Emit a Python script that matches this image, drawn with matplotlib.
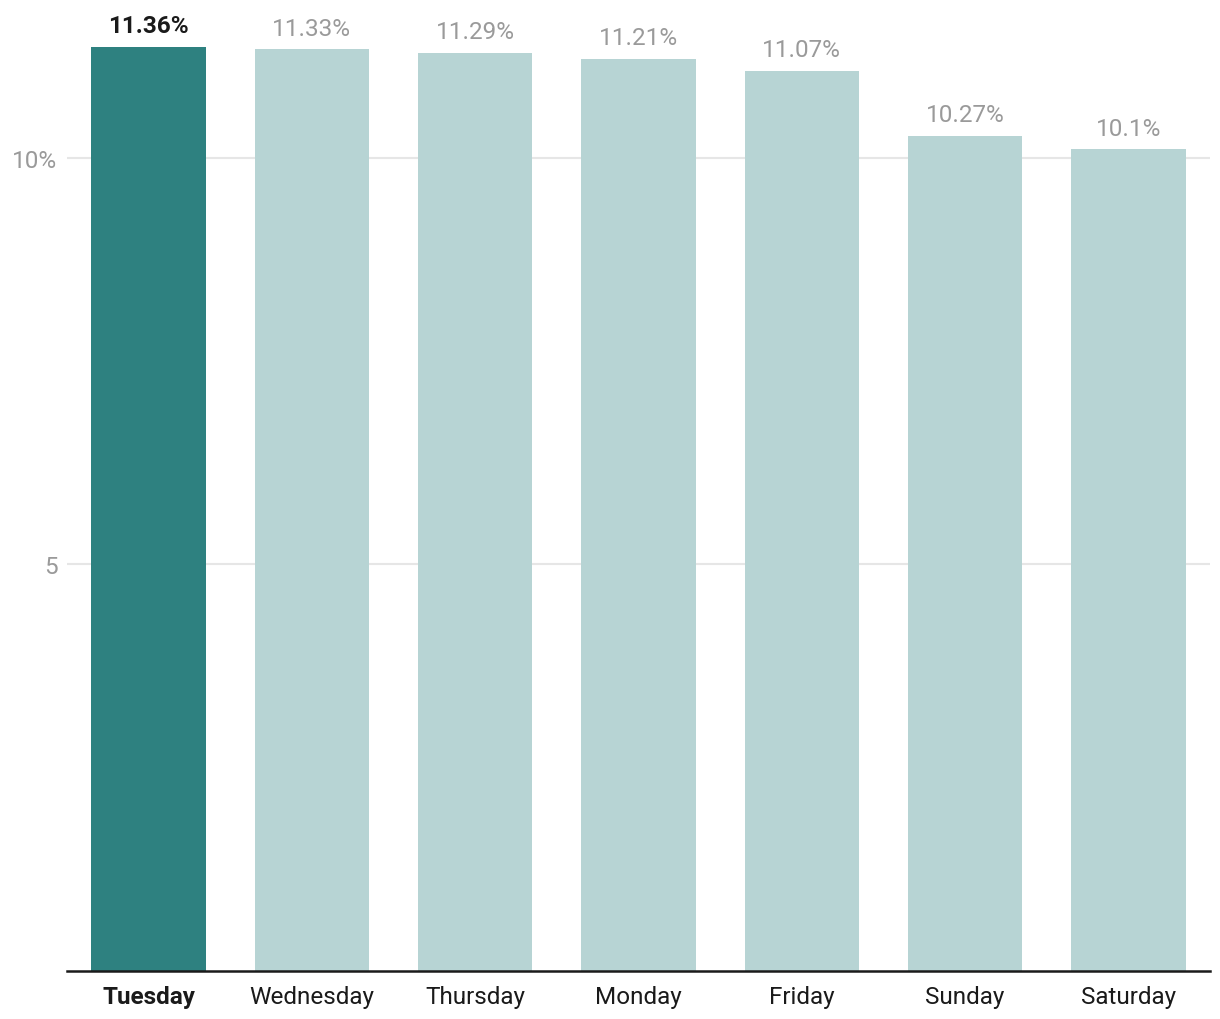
import matplotlib
matplotlib.use("Agg")
import matplotlib.pyplot as plt
from matplotlib.ticker import FixedLocator

days = ["Tuesday", "Wednesday", "Thursday", "Monday", "Friday", "Sunday", "Saturday"]
shares = [11.36, 11.33, 11.29, 11.21, 11.07, 10.27, 10.1]
labels = ["11.36%", "11.33%", "11.29%", "11.21%", "11.07%", "10.27%", "10.1%"]
y_ticks = [5, 10]
y_tick_labels = ["5", "10%"]

plt.rcParams["font.family"] = ["Roboto", "DejaVu Sans"]

dark = "#2e8180"
light = "#b7d4d4"
grey = "#9a9a9a"

fig = plt.figure(figsize=(12.2, 10.2), dpi=100)
# axes placed in pixel terms: left 67, right 1210, baseline 971
ax = fig.add_axes([67 / 1220, 48 / 1020, (1210 - 67) / 1220, (972 - 4) / 1020])

x = list(range(len(days)))
colors = [dark] + [light] * (len(days) - 1)
ax.bar(x, shares, width=0.7, color=colors, zorder=2)

for i, (v, lab) in enumerate(zip(shares, labels)):
    first = i == 0
    ax.annotate(lab, (i, v), xytext=(0, 7), textcoords="offset points",
                ha="center", va="bottom", fontsize=17.5,
                color="#1a1a1a" if first else grey,
                fontweight="bold" if first else "normal")

ax.set_xlim(-0.5, 6.5)
ax.set_ylim(0, 11.9)
ax.yaxis.set_major_locator(FixedLocator(y_ticks))
ax.set_yticklabels(y_tick_labels)
ax.grid(axis="y", color="#e6e6e6", linewidth=1.5, zorder=0)
ax.set_axisbelow(True)

ax.set_xticks(x)
ax.set_xticklabels(days)
for i, t in enumerate(ax.get_xticklabels()):
    t.set_color("#1a1a1a")
    if i == 0:
        t.set_fontweight("bold")
ax.tick_params(axis="x", length=0, labelsize=17.5, pad=10)
ax.tick_params(axis="y", length=0, labelsize=17.5, labelcolor=grey, pad=7)

for side in ["top", "right", "left"]:
    ax.spines[side].set_visible(False)
ax.spines["bottom"].set_color("#1a1a1a")
ax.spines["bottom"].set_linewidth(1.8)
ax.spines["bottom"].set_zorder(3)

fig.savefig("out.png", dpi=100)
